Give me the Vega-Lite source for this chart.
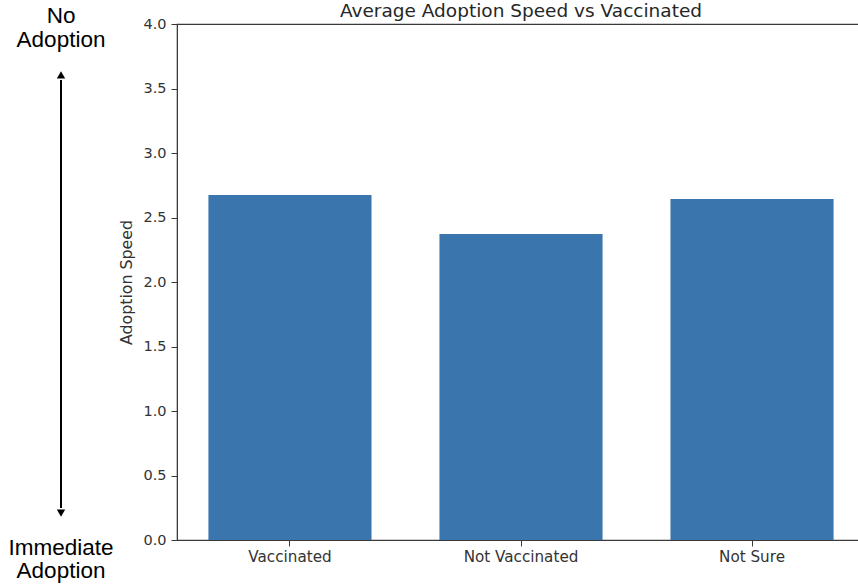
{
  "$schema": "https://vega.github.io/schema/vega-lite/v6.json",
  "autosize": "none",
  "padding": {"left": 177, "top": 24, "right": 0, "bottom": 47},
  "width": 688,
  "height": 516,
  "background": "white",
  "title": {
    "text": "Average Adoption Speed vs Vaccinated",
    "font": "DejaVu Sans",
    "fontSize": 18.5,
    "fontWeight": "normal",
    "color": "#262626",
    "anchor": "middle",
    "frame": "group",
    "offset": -16
  },
  "config": {
    "view": {"stroke": "#3a3a3a", "strokeWidth": 1.2},
    "axis": {
      "labelFont": "DejaVu Sans",
      "titleFont": "DejaVu Sans",
      "labelColor": "#333333",
      "titleColor": "#333333",
      "domainColor": "#3a3a3a",
      "tickColor": "#3a3a3a",
      "grid": false
    }
  },
  "datasets": {
    "bars": [
      {"Vaccinated": "Vaccinated", "AdoptionSpeed": 2.674},
      {"Vaccinated": "Not Vaccinated", "AdoptionSpeed": 2.372},
      {"Vaccinated": "Not Sure", "AdoptionSpeed": 2.643}
    ],
    "one": [{}]
  },
  "resolve": {"scale": {"x": "independent"}, "axis": {"x": "independent"}},
  "layer": [
    {
      "data": {"name": "bars"},
      "mark": {"type": "bar", "color": "#3a75ae"},
      "encoding": {
        "x": {
          "field": "Vaccinated",
          "type": "nominal",
          "sort": null,
          "scale": {"paddingInner": 0.294, "paddingOuter": 0.136},
          "axis": {"title": null, "labelAngle": 0, "labelFontSize": 15.2, "tickSize": 6, "labelPadding": 3}
        },
        "y": {
          "field": "AdoptionSpeed",
          "type": "quantitative",
          "scale": {"domain": [0, 4], "nice": false},
          "axis": {"title": "Adoption Speed", "values": [0, 0.5, 1, 1.5, 2, 2.5, 3, 3.5, 4], "format": ".1f", "labelFontSize": 14.5, "titleFontSize": 15.8, "titleFontWeight": "normal", "tickSize": 6, "labelPadding": 5, "titlePadding": 8}
        }
      }
    },
    {
      "data": {"name": "one"},
      "mark": {"type": "rule", "color": "black", "strokeWidth": 2, "clip": false},
      "encoding": {
        "x": {"datum": -0.1686, "type": "quantitative", "scale": {"domain": [0, 1]}, "axis": null},
        "y": {"datum": 3.566, "type": "quantitative"},
        "y2": {"datum": 0.248}
      }
    },
    {
      "data": {"name": "one"},
      "mark": {"type": "point", "shape": "triangle-up", "filled": true, "color": "black", "opacity": 1, "size": 70, "clip": false},
      "encoding": {
        "x": {"datum": -0.1686, "type": "quantitative", "scale": {"domain": [0, 1]}, "axis": null},
        "y": {"datum": 3.605, "type": "quantitative"}
      }
    },
    {
      "data": {"name": "one"},
      "mark": {"type": "point", "shape": "triangle-down", "filled": true, "color": "black", "opacity": 1, "size": 70, "clip": false},
      "encoding": {
        "x": {"datum": -0.1686, "type": "quantitative", "scale": {"domain": [0, 1]}, "axis": null},
        "y": {"datum": 0.209, "type": "quantitative"}
      }
    },
    {
      "data": {"name": "one"},
      "mark": {"type": "text", "font": "Liberation Sans", "fontSize": 22.5, "color": "black", "align": "center", "baseline": "alphabetic", "lineHeight": 24, "clip": false},
      "encoding": {
        "x": {"datum": -0.1686, "type": "quantitative", "scale": {"domain": [0, 1]}, "axis": null},
        "y": {"datum": 4.008, "type": "quantitative"},
        "text": {"value": ["No", "Adoption"]}
      }
    },
    {
      "data": {"name": "one"},
      "mark": {"type": "text", "font": "Liberation Sans", "fontSize": 22.5, "color": "black", "align": "center", "baseline": "alphabetic", "lineHeight": 23, "clip": false},
      "encoding": {
        "x": {"datum": -0.1686, "type": "quantitative", "scale": {"domain": [0, 1]}, "axis": null},
        "y": {"datum": -0.116, "type": "quantitative"},
        "text": {"value": ["Immediate", "Adoption"]}
      }
    }
  ]
}
